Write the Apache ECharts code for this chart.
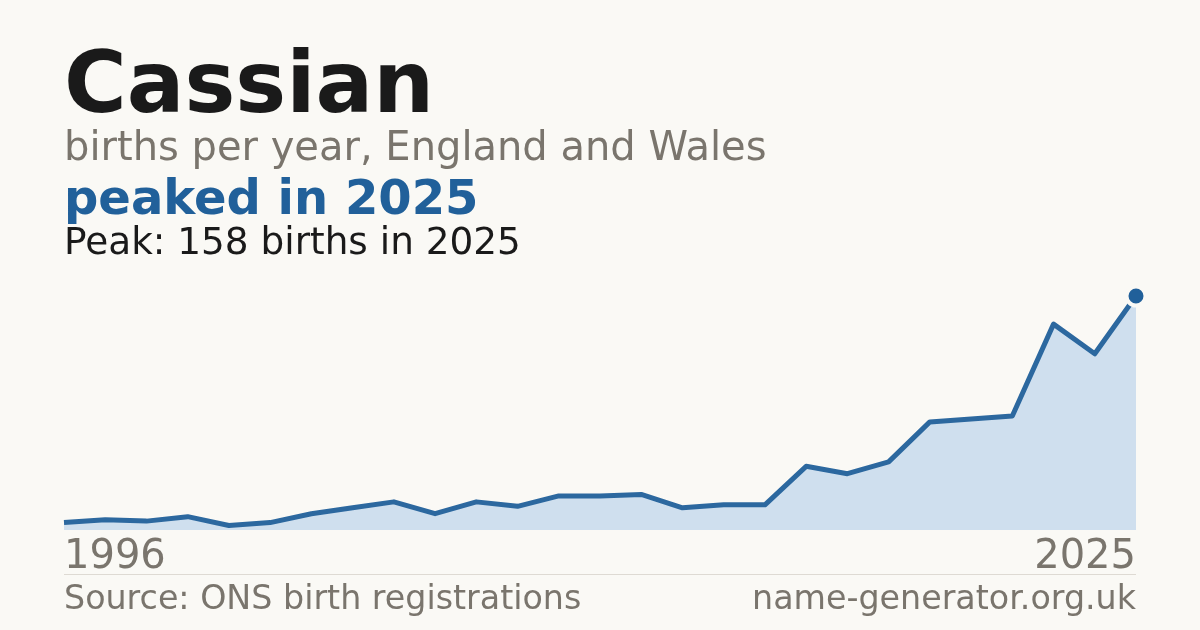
<!DOCTYPE html>
<html>
<head>
<meta charset="utf-8">
<title>Cassian</title>
<script src="https://cdn.jsdelivr.net/npm/echarts@6/dist/echarts.min.js"></script>
<style>
    html, body {margin: 0; padding: 0; background: #faf9f5;}
    #chart {width: 1200px; height: 630px;}
</style>
</head>
<body>
<div id="chart"></div>
<script>
// Years shown on the line (27 points, first and last labelled)
const years = [
    '1996', '1997', '1998', '1999', '2000', '2001', '2002', '2003', '2004',
    '2005', '2006', '2007', '2008', '2009', '2010', '2011', '2012', '2013',
    '2014', '2015', '2016', '2017', '2018', '2019', '2023', '2024', '2025'
];
// Births per year
const births = [5, 7, 6, 9, 3, 5, 11, 15, 19, 11, 19, 16, 23, 23, 24, 15, 17, 17, 43, 38, 46, 73, 75, 77, 139, 119, 158];

const peakIndex = births.indexOf(Math.max(...births));
const peakValue = births[peakIndex];
const peakYear = years[peakIndex];

const bg = '#faf9f5';
const blue = '#21609a';
const grey = '#7a756d';
const font = 'DejaVu Sans';

const chart = echarts.init(document.getElementById('chart'));

chart.setOption({
    backgroundColor: bg,
    animation: false,
    textStyle: {fontFamily: font},
    title: [
        {
            text: 'Cassian',
            left: 64, top: 47, padding: 0,
            textStyle: {fontFamily: font, fontSize: 85.5, fontWeight: 'bold', color: '#1a1a1a'}
        },
        {
            text: 'births per year, England and Wales',
            left: 64, top: 130, padding: 0,
            textStyle: {fontFamily: font, fontSize: 40, fontWeight: 'normal', color: grey}
        },
        {
            text: 'peaked in ' + peakYear,
            left: 64, top: 178, padding: 0,
            textStyle: {fontFamily: font, fontSize: 48, fontWeight: 'bold', color: blue}
        },
        {
            text: 'Peak: ' + peakValue + ' births in ' + peakYear,
            left: 64, top: 226, padding: 0,
            textStyle: {fontFamily: font, fontSize: 37.4, fontWeight: 'normal', color: '#1a1a1a'}
        },
        {
            text: 'Source: ONS birth registrations',
            left: 64, top: 584, padding: 0,
            textStyle: {fontFamily: font, fontSize: 33.3, fontWeight: 'normal', color: grey}
        },
        {
            text: 'name-generator.org.uk',
            right: 64, top: 584, padding: 0,
            textStyle: {fontFamily: font, fontSize: 33.3, fontWeight: 'normal', color: grey}
        }
    ],
    // thin rule above the footer
    graphic: [{
        type: 'line',
        shape: {x1: 64, y1: 574.5, x2: 1136, y2: 574.5},
        style: {stroke: '#dedad3', lineWidth: 1}
    }],
    grid: {left: 64, right: 64, top: 296, bottom: 100},
    xAxis: {
        type: 'category',
        boundaryGap: false,
        data: years,
        axisLine: {show: false},
        axisTick: {show: false},
        splitLine: {show: false},
        axisLabel: {
            // only the first and last year
            interval: (i) => i === 0 || i === years.length - 1,
            alignMinLabel: 'left',
            alignMaxLabel: 'right',
            margin: 8,
            fontSize: 40,
            fontFamily: font,
            color: grey
        }
    },
    yAxis: {
        type: 'value',
        min: 0,
        max: peakValue,
        show: false
    },
    series: [
        {
            type: 'line',
            data: births,
            symbol: 'none',
            lineStyle: {color: '#2c689f', width: 5, join: 'round'},
            areaStyle: {color: '#cfdfee', opacity: 1}
        },
        {
            // dot on the peak, ringed in background colour
            type: 'scatter',
            data: [[peakYear, peakValue]],
            symbol: 'circle',
            symbolSize: 19,
            itemStyle: {color: blue, opacity: 1, borderColor: bg, borderWidth: 4},
            z: 5
        }
    ]
});
</script>
</body>
</html>
